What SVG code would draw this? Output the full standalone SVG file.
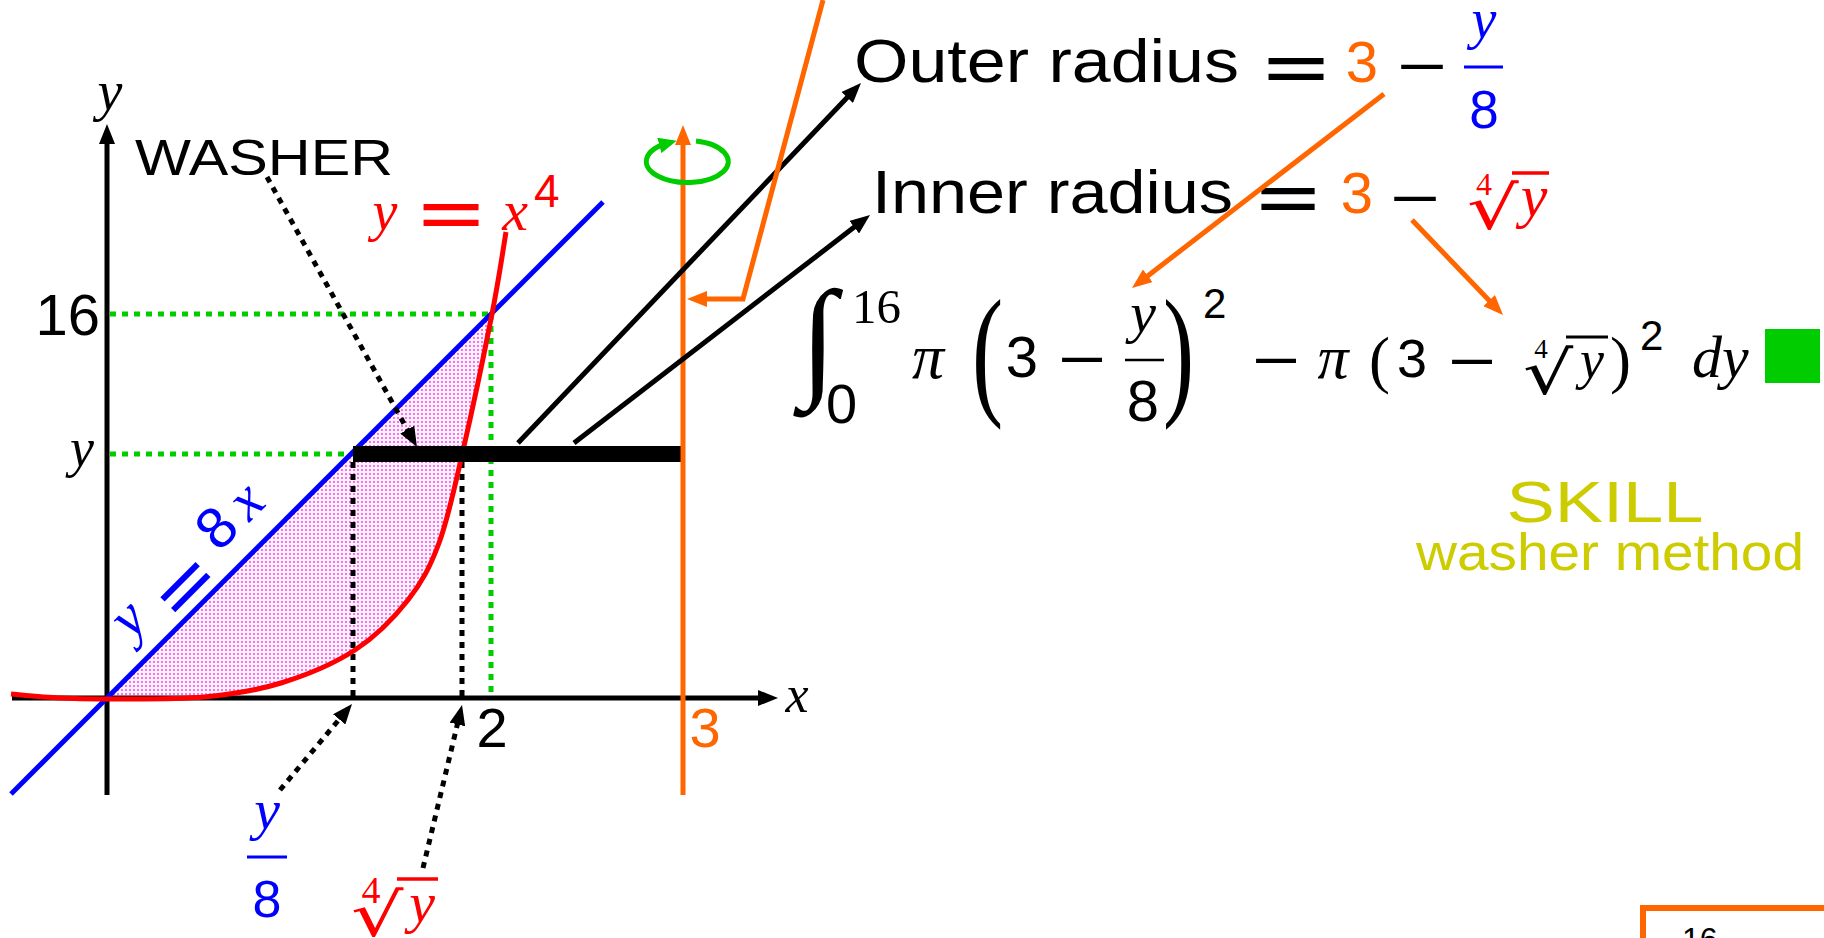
<svg xmlns="http://www.w3.org/2000/svg" width="1824" height="938" viewBox="0 0 1824 938">
<style>
.sans{font-family:"Liberation Sans",Arial,sans-serif}
.serif{font-family:"Liberation Serif","Times New Roman",serif}
.it{font-family:"Liberation Serif","Times New Roman",serif;font-style:italic}
.op{font-family:"Liberation Sans",Arial,sans-serif;font-weight:bold}
.mi{font-family:"Liberation Sans",Arial,sans-serif}
.rad{font-family:"DejaVu Sans",sans-serif}
.ln{fill:none;stroke-width:5}
.dot{fill:none;stroke-width:5;stroke-dasharray:6 6}
</style>
<defs>
<marker id="ahK" markerUnits="userSpaceOnUse" markerWidth="20" markerHeight="16" refX="10" refY="8" orient="auto"><path d="M0,0 L20,8 L0,16 Z" fill="#000"/></marker>
<marker id="ahO" markerUnits="userSpaceOnUse" markerWidth="20" markerHeight="16" refX="10" refY="8" orient="auto"><path d="M0,0 L20,8 L0,16 Z" fill="#ff6600"/></marker>
<marker id="ahG" markerUnits="userSpaceOnUse" markerWidth="18" markerHeight="16" refX="9" refY="8" orient="auto"><path d="M0,0 L18,8 L0,16 Z" fill="#00cc00"/></marker>
<pattern id="dots" width="4" height="4" patternUnits="userSpaceOnUse"><rect width="4" height="4" fill="#fff4fd"/><circle cx="2" cy="2" r="0.95" fill="#ff33ee"/></pattern>
</defs>

<g id="region">
<path d="M107,699 C131,698.8 175,699.7 204,697 C233,694.3 255.8,690.8 281,683 C306.2,675.2 333.8,663.8 355,650 C376.2,636.2 394,617.8 408,600 C422,582.2 430,567.2 439,543 C448,518.8 453.2,493.2 462,455 C470.8,416.8 484.7,351.2 491,314 Z" fill="url(#dots)"/>
</g>

<g id="guides">
<line class="dot" x1="110" y1="314" x2="491" y2="314" stroke="#00cc00"/>
<line class="dot" x1="491" y1="314" x2="491" y2="698" stroke="#00cc00"/>
<line class="dot" x1="110" y1="454" x2="353" y2="454" stroke="#00cc00"/>
<line class="dot" x1="353" y1="462" x2="353" y2="698" stroke="#000" stroke-width="6"/>
<line class="dot" x1="462" y1="462" x2="462" y2="698" stroke="#000" stroke-width="6"/>
</g>

<g id="axes">
<line class="ln" x1="12" y1="698" x2="768" y2="698" stroke="#000" stroke-width="6" marker-end="url(#ahK)"/>
<line class="ln" x1="107" y1="795" x2="107" y2="134" stroke="#000" stroke-width="6" marker-end="url(#ahK)"/>
<text class="it" x="110" y="110" font-size="56" text-anchor="middle">y</text>
<text class="it" x="797" y="712" font-size="52" text-anchor="middle">x</text>
<text class="sans" x="100" y="335" font-size="58" text-anchor="end">16</text>
<text class="it" x="82" y="466" font-size="54" text-anchor="middle">y</text>
<text class="sans" x="492" y="747" font-size="56" text-anchor="middle">2</text>
<text class="sans" x="705" y="747" font-size="56" text-anchor="middle" fill="#ff6600">3</text>
</g>

<g id="line-8x">
<line class="ln" x1="11" y1="794" x2="603" y2="202" stroke="#0000ff"/>
<g transform="translate(130 642) rotate(-45)" fill="#0000ff">
<text class="it" x="15" y="0" font-size="58" text-anchor="middle">y</text>
<text class="op" x="49" y="19" font-size="56" textLength="58" lengthAdjust="spacingAndGlyphs">=</text>
<text class="sans" x="142" y="0" font-size="58" text-anchor="middle">8</text>
<text class="it" x="182" y="0" font-size="58" text-anchor="middle">x</text>
</g>
</g>

<g id="curve-x4">
<path d="M11,694 C19.2,694.7 44,697.2 60,698 C76,698.8 83,699.2 107,699 C131,698.8 175,699.7 204,697 C233,694.3 255.8,690.8 281,683 C306.2,675.2 333.8,663.8 355,650 C376.2,636.2 394,617.8 408,600 C422,582.2 430,567.2 439,543 C448,518.8 453.2,493.2 462,455 C470.8,416.8 484.7,351.2 492,314 C499.3,276.8 503.7,245.7 506,232" class="ln" stroke="#ff0000"/>
<g fill="#ff0000">
<text class="it" x="385" y="230" font-size="56" text-anchor="middle">y</text>
<text class="op" x="419" y="234" font-size="58" textLength="64" lengthAdjust="spacingAndGlyphs">=</text>
<text class="it" x="515" y="230" font-size="58" text-anchor="middle">x</text>
<text class="sans" x="534" y="207" font-size="46">4</text>
</g>
</g>

<g id="washer">
<rect x="353" y="446" width="330" height="16" fill="#000"/>
<text class="sans" x="135" y="175" font-size="50" textLength="258" lengthAdjust="spacingAndGlyphs">WASHER</text>
</g>

<g id="label-y8" fill="#0000ff">
<text class="it" x="267" y="829" font-size="58" text-anchor="middle">y</text>
<line x1="247" y1="857" x2="287" y2="857" stroke="#0000ff" stroke-width="3"/>
<text class="sans" x="267" y="917" font-size="52" text-anchor="middle">8</text>
</g>

<g id="label-root" fill="#ff0000">
<text class="serif" x="371" y="903" font-size="38" text-anchor="middle">4</text>
<text class="rad" transform="translate(351 936) scale(1.42 1.03)" x="0" y="0" font-size="58">√</text>
<line x1="397" y1="879" x2="438" y2="879" stroke="#ff0000" stroke-width="3.5"/>
<text class="it" x="422" y="922" font-size="58" text-anchor="middle">y</text>
</g>

<g id="axis-rotation">
<line class="ln" x1="683" y1="795" x2="683" y2="135" stroke="#ff6600" marker-end="url(#ahO)"/>
<path d="M696,141 A41 21 0 1 1 668,143" class="ln" stroke="#00cc00" marker-end="url(#ahG)"/>
</g>

<g id="connectors">
<line class="ln" x1="518" y1="443" x2="854.1" y2="90.2" stroke="#000" marker-end="url(#ahK)"/>
<line class="ln" x1="574" y1="443" x2="862.1" y2="221.1" stroke="#000" marker-end="url(#ahK)"/>
<polyline class="ln" points="823,0 743,299 697,299" stroke="#ff6600" marker-end="url(#ahO)"/>
<line class="dot" x1="267" y1="177" x2="412.1" y2="438.3" stroke="#000" marker-end="url(#ahK)"/>
<line class="dot" x1="280" y1="790" x2="345.6" y2="711.7" stroke="#000" marker-end="url(#ahK)"/>
<line class="dot" x1="423" y1="868" x2="459.7" y2="714.7" stroke="#000" marker-end="url(#ahK)"/>
</g>

<g id="outer-radius">
<text class="sans" x="854" y="82" font-size="61" textLength="385" lengthAdjust="spacingAndGlyphs">Outer radius</text>
<text class="op" x="1264" y="88" font-size="58" textLength="64" lengthAdjust="spacingAndGlyphs">=</text>
<text class="sans" x="1362" y="82" font-size="58" text-anchor="middle" fill="#ff6600">3</text>
<text class="mi" x="1397" y="86" font-size="58" textLength="50" lengthAdjust="spacingAndGlyphs">−</text>
<g fill="#0000ff">
<text class="it" x="1484" y="38" font-size="56" text-anchor="middle">y</text>
<line x1="1464" y1="67" x2="1503" y2="67" stroke="#0000ff" stroke-width="3"/>
<text class="sans" x="1484" y="128" font-size="53" text-anchor="middle">8</text>
</g>
</g>

<g id="inner-radius">
<text class="sans" x="872" y="213" font-size="61" textLength="361" lengthAdjust="spacingAndGlyphs">Inner radius</text>
<text class="op" x="1257" y="218" font-size="58" textLength="62" lengthAdjust="spacingAndGlyphs">=</text>
<text class="sans" x="1357" y="213" font-size="58" text-anchor="middle" fill="#ff6600">3</text>
<text class="mi" x="1390" y="218" font-size="58" textLength="50" lengthAdjust="spacingAndGlyphs">−</text>
<g fill="#ff0000">
<text class="serif" x="1484" y="195" font-size="32" text-anchor="middle">4</text>
<text class="rad" transform="translate(1467 229) scale(1.4 1.03)" x="0" y="0" font-size="58">√</text>
<line x1="1512" y1="173" x2="1549" y2="173" stroke="#ff0000" stroke-width="3.5"/>
<text class="it" x="1534" y="216" font-size="60" text-anchor="middle">y</text>
</g>
</g>

<g id="orange-arrows">
<line class="ln" x1="1384" y1="94" x2="1139.9" y2="281.9" stroke="#ff6600" marker-end="url(#ahO)"/>
<line class="ln" x1="1412" y1="220" x2="1496.1" y2="307.8" stroke="#ff6600" marker-end="url(#ahO)"/>
</g>

<g id="integral">
<text class="serif" x="800" y="382" font-size="132">∫</text>
<text class="serif" x="852" y="323" font-size="49">16</text>
<text class="sans" x="826" y="423" font-size="56">0</text>
<text class="it" x="928" y="378" font-size="64" text-anchor="middle">π</text>
<text class="serif" transform="translate(972 399) scale(1.3 2)" x="0" y="0" font-size="72">(</text>
<text class="sans" x="1022" y="377" font-size="58" text-anchor="middle">3</text>
<text class="mi" x="1058" y="379" font-size="58" textLength="48" lengthAdjust="spacingAndGlyphs">−</text>
<text class="it" x="1143" y="332" font-size="58" text-anchor="middle">y</text>
<line x1="1125" y1="360" x2="1164" y2="360" stroke="#000" stroke-width="2.5"/>
<text class="sans" x="1143" y="421" font-size="58" text-anchor="middle">8</text>
<text class="serif" transform="translate(1163 399) scale(1.3 2)" x="0" y="0" font-size="72">)</text>
<text class="sans" x="1203" y="318" font-size="42">2</text>
<text class="mi" x="1252" y="380" font-size="58" textLength="48" lengthAdjust="spacingAndGlyphs">−</text>
<text class="it" x="1333" y="378" font-size="62" text-anchor="middle">π</text>
<text class="serif" x="1369" y="381" font-size="63">(</text>
<text class="sans" x="1412" y="377" font-size="54" text-anchor="middle">3</text>
<text class="mi" x="1448" y="381" font-size="58" textLength="48" lengthAdjust="spacingAndGlyphs">−</text>
<text class="serif" x="1541" y="358" font-size="27" text-anchor="middle">4</text>
<text class="rad" transform="translate(1523 394) scale(1.36 1.03)" x="0" y="0" font-size="58">√</text>
<line x1="1566" y1="337" x2="1608" y2="337" stroke="#000" stroke-width="3"/>
<text class="it" x="1592" y="378" font-size="54" text-anchor="middle">y</text>
<text class="serif" x="1610" y="381" font-size="63">)</text>
<text class="sans" x="1640" y="350" font-size="42">2</text>
<text class="it" x="1692" y="377" font-size="60">dy</text>
<rect x="1765" y="329" width="55" height="54" fill="#00cc00"/>
</g>

<g id="skill" fill="#cccc00">
<text class="sans" x="1605" y="522" font-size="58" text-anchor="middle" textLength="197" lengthAdjust="spacingAndGlyphs">SKILL</text>
<text class="sans" x="1610" y="570" font-size="52" text-anchor="middle" textLength="388" lengthAdjust="spacingAndGlyphs">washer method</text>
</g>

<g id="corner-box">
<rect x="1643" y="908" width="300" height="120" fill="#fff" stroke="#ff6600" stroke-width="6"/>
<text class="sans" x="1682" y="950" font-size="32">16</text>
</g>
</svg>
